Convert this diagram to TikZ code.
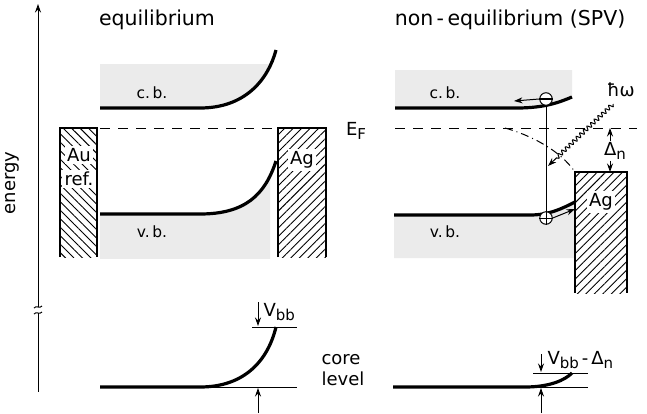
\documentclass[tikz,border=0pt]{standalone}
\usepackage{fontspec}
\setmainfont{DejaVu Sans}
\usetikzlibrary{arrows.meta,patterns.meta,decorations.pathmorphing}

\newcommand{\lowsub}[1]{\raisebox{-0.45ex}{\fontsize{15}{17}\selectfont #1}}

\tikzset{
  band/.style={line width=3.2pt},
  thin line/.style={line width=1pt},
  fermi/.style={dash pattern=on 10pt off 8pt, line width=1pt},
  metal/.style={pattern={Lines[angle=#1,distance=6pt,line width=0.9pt]}},
  metal edge/.style={line width=1.4pt},
  metal lbl/.style={font=\fontsize{18}{21}\selectfont,fill=white,inner sep=2.5pt},
  bandfill/.style={fill=gray!16},
  title/.style={font=\fontsize{20.5}{24}\selectfont},
  lbl/.style={font=\fontsize{18}{21}\selectfont},
  small lbl/.style={font=\fontsize{15.5}{18}\selectfont},
  charge/.style={circle,draw,line width=1pt,minimum size=12.5pt,inner sep=0pt},
}

\begin{document}
\begin{tikzpicture}[x=1pt,y=-1pt,>={Stealth[length=8.5pt,width=6pt]}]
\useasboundingbox (0,0) rectangle (647,413);

% energy axis with break
\draw[thin line,->] (38,307) -- (38,4);
\draw[thin line] (38,313) -- (38,392);
\draw[thin line] (34,308) .. controls (36,305) and (40,309) .. (42,306);
\draw[thin line] (34,314) .. controls (36,311) and (40,315) .. (42,312);
\node[lbl,rotate=90] (energy) at (12,183) {energy};

\node[title] (eqtitle) at (157,20) {equilibrium};
\node[title] (neqtitle) at (510,20) {non\,-\,equilibrium (SPV)};

% equilibrium
\begin{scope}
\clip (100,64) rectangle (270,258);
\fill[bandfill] (100,108) -- (200,108) .. controls (245,108) and (268,80) .. (276,50) -- (276,60) -- (100,60) -- cycle;
\fill[bandfill] (100,214) -- (200,214) .. controls (245,214) and (265,195) .. (276,161) -- (276,260) -- (100,260) -- cycle;
\end{scope}
\fill[metal=-45] (60,128) rectangle (97,257);
\draw[metal edge] (60,257) -- (60,128) -- (97,128) -- (97,257);
\fill[metal=45] (278,128) rectangle (326,257);
\draw[metal edge] (278,257) -- (278,128) -- (326,128) -- (326,257);
\draw[fermi] (100,128) -- (276,128);
\draw[band] (100,108) -- (200,108) .. controls (245,108) and (268,80) .. (276,50);
\draw[band] (100,214) -- (200,214) .. controls (245,214) and (265,195) .. (276,161);
\node[small lbl] (cbL) at (152,93) {c.\,b.};
\node[small lbl] (vbL) at (152,232) {v.\,b.};
\node[metal lbl] (au) at (79,155) {Au};
\node[metal lbl] (ref) at (79,179) {ref.};
\node[metal lbl] (agL) at (302,160) {Ag};

% non-equilibrium
\fill[bandfill] (395,108) -- (517,108) .. controls (545,108) and (560,102) .. (572,97) -- (572,70) -- (395,70) -- cycle;
\fill[bandfill] (394,215) -- (530,215) .. controls (550,215) and (563,208) .. (575,202) -- (575,258) -- (394,258) -- cycle;
\fill[white] (575,172) rectangle (627,293);
\fill[metal=45] (575,172) rectangle (627,293);
\draw[metal edge] (575,293) -- (575,172) -- (627,172) -- (627,293);
\draw[fermi] (395,128) -- (637,128);
\node[lbl] (ef) at (356,131) {E\lowsub{F}};
\draw[thin line,dash pattern=on 8pt off 4pt on 1pt off 4pt] (505,128) .. controls (530,135) and (560,150) .. (575,172);
\draw[band] (395,108) -- (517,108) .. controls (545,108) and (560,102) .. (572,97);
\draw[band] (394,215) -- (530,215) .. controls (550,215) and (563,208) .. (575,202);
\node[small lbl] (cbR) at (445,93) {c.\,b.};
\node[small lbl] (vbR) at (445,232) {v.\,b.};
\node[metal lbl] (agR) at (601,202) {Ag};

\node[charge,fill=white] (elec) at (546,99) {};
\draw[line width=1.4pt] (elec.west) -- (elec.east);
\node[charge,fill=white] (hole) at (546,218) {};
\draw[thin line] (hole.west) -- (hole.east) (hole.north) -- (hole.south);
\draw[thin line] (elec.south) -- (hole.north);
\coordinate (elecend) at (514,101);
\draw[thin line,->] (elec.west) -- (elecend);
\coordinate (holeend) at (575,209);
\draw[thin line,->] (hole.east) -- (holeend);

\coordinate (photonstart) at (613,104);
\coordinate (photonend) at (548,166);
\draw[thin line,->,decorate,decoration={snake,segment length=5pt,amplitude=2pt,post length=10pt}] (photonstart) -- (photonend);
\node[lbl] (hw) at (621,90) {ħω};

\coordinate (dtop) at (610,128);
\coordinate (dbot) at (610,172);
\node[lbl,inner sep=1pt] (dn) at (615,151) {Δ\lowsub{n}};
\draw[thin line,->] (dtop |- dn.north) -- (dtop);
\draw[thin line,->] (dbot |- dn.south) -- (dbot);

% core levels
\draw[band] (100,387) -- (200,387) .. controls (245,387) and (268,360) .. (276,327);
\draw[thin line] (200,387) -- (297,387);
\draw[thin line] (252,327) -- (297,327);
\draw[thin line,->] (258,302) -- (258,326);
\draw[thin line,->] (258,413) -- (258,388);
\node[lbl,anchor=west] (vbbL) at (260,312) {V\lowsub{bb}};
\node[lbl,align=left,anchor=west] (core) at (318,370) {core\\level};
\draw[band] (393,387) -- (525,387) .. controls (550,387) and (565,380) .. (572,373);
\draw[thin line] (525,387) -- (588,387);
\draw[thin line] (533,373) -- (588,373);
\draw[thin line,->] (541,354) -- (541,372);
\draw[thin line,->] (541,413) -- (541,388);
\node[lbl,anchor=west] (vbbR) at (544,360) {V\lowsub{bb}\,-\,Δ\lowsub{n}};
\end{tikzpicture}
\end{document}
